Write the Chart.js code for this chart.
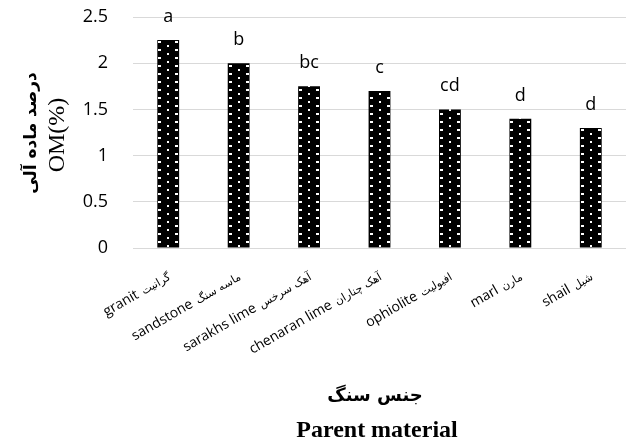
<!DOCTYPE html>
<html>
<head>
<meta charset="utf-8">
<script src="https://cdn.jsdelivr.net/npm/chart.js@4"></script>
<style>
  html, body { margin: 0; padding: 0; background: #fff; }
  #wrap { width: 626px; height: 441px; position: relative; }
</style>
</head>
<body>
<div id="wrap"><canvas id="c" width="626" height="441"></canvas></div>
<script>
// ---- data ----
const categoriesEn = ["granit", "sandstone", "sarakhs lime", "chenaran lime", "ophiolite", "marl", "shail"];
const categoriesFa = ["گرانیت", "ماسه سنگ", "آهک سرخس", "آهک چناران", "افیولیت", "مارن", "شیل"];
const omValues = [2.25, 2.0, 1.75, 1.7, 1.5, 1.4, 1.3];
const groupLetters = ["a", "b", "bc", "c", "cd", "d", "d"];
const yTicks = [0, 0.5, 1, 1.5, 2, 2.5];
const yTitleFa = "درصد ماده آلی";
const yTitleEn = "OM(%)";
const xTitleFa = "جنس سنگ";
const xTitleEn = "Parent material";

const categories = categoriesEn.map((e, i) => e + " " + categoriesFa[i]);

// ---- dotted pattern tile ----
const tile = document.createElement('canvas');
tile.width = 17; tile.height = 8;
(function () {
  const t = tile.getContext('2d');
  t.fillStyle = '#000';
  t.fillRect(0, 0, 17, 8);
  t.fillStyle = '#fff';
  t.fillRect(0, 1, 2, 2);
  t.fillRect(16, 1, 1, 2);
  t.fillRect(8, 5, 2, 2);
})();

function barFill(context) {
  if (context.type !== 'data') return '#000';
  const chart = context.chart;
  const xs = chart.scales.x;
  const p = chart.ctx.createPattern(tile, 'repeat');
  if (xs && p && p.setTransform) {
    const cx = xs.getPixelForValue(context.dataIndex);
    p.setTransform(new DOMMatrix().translate(Math.round(cx - 9), 0));
  }
  return p || '#000';
}

const ROT = 30 * Math.PI / 180;
const FONT_EN = "14px 'Open Sans'";
const FONT_FA = "11px 'DejaVu Sans'";

const textPlugin = {
  id: 'texts',
  afterDraw(chart) {
    const ctx = chart.ctx;
    const meta = chart.getDatasetMeta(0);
    const xs = chart.scales.x;
    ctx.save();
    ctx.fillStyle = '#000';
    // category labels (English + Persian), rotated, anchored at the category pixel
    categories.forEach((lbl, i) => {
      const x = xs.getPixelForValue(i);
      const y = chart.chartArea.bottom + 31;
      ctx.save();
      ctx.translate(x + 3, y);
      ctx.rotate(-ROT);
      ctx.textBaseline = 'alphabetic';
      ctx.textAlign = 'right';
      ctx.font = FONT_FA;
      const wFa = ctx.measureText(categoriesFa[i]).width;
      ctx.fillText(categoriesFa[i], 0, 0);
      ctx.font = FONT_EN;
      ctx.fillText(categoriesEn[i], -wFa - 5, 0);
      ctx.restore();
    });
    // significance letters above bars
    ctx.font = "18px 'Open Sans'";
    ctx.textAlign = 'center';
    ctx.textBaseline = 'alphabetic';
    meta.data.forEach((bar, i) => {
      ctx.fillText(groupLetters[i], bar.x, bar.y - 18);
    });
    // y axis title (two lines, rotated)
    const cy = 133;
    ctx.save();
    ctx.translate(32, cy);
    ctx.rotate(-Math.PI / 2);
    ctx.font = "bold 17px 'DejaVu Sans'";
    ctx.textBaseline = 'middle';
    ctx.fillText(yTitleFa, 0, 0);
    ctx.restore();
    ctx.save();
    ctx.translate(58, cy + 2);
    ctx.rotate(-Math.PI / 2);
    ctx.font = "24px 'Liberation Serif'";
    ctx.textBaseline = 'middle';
    ctx.fillText(yTitleEn, 0, 0);
    ctx.restore();
    // x axis title
    ctx.textBaseline = 'alphabetic';
    ctx.font = "bold 18px 'DejaVu Sans'";
    ctx.fillText(xTitleFa, 375, 401);
    ctx.font = "bold 24px 'Liberation Serif'";
    ctx.fillText(xTitleEn, 377, 437);
    ctx.restore();
  }
};

new Chart(document.getElementById('c'), {
  type: 'bar',
  data: {
    labels: categories,
    datasets: [{
      data: omValues,
      backgroundColor: barFill,
      borderWidth: 0,
      barPercentage: 0.62,
      categoryPercentage: 0.5
    }]
  },
  options: {
    responsive: false,
    animation: false,
    devicePixelRatio: 1,
    layout: { padding: { top: 17, right: -4, left: 0, bottom: 0 } },
    plugins: { legend: { display: false }, tooltip: { enabled: false } },
    scales: {
      x: {
        grid: { display: false },
        border: { color: '#d9d9d9', width: 1 },
        ticks: { display: false, autoSkip: false },
        afterFit(scale) { scale.height = 193; scale.paddingLeft = 0; scale.paddingRight = 0; }
      },
      y: {
        min: 0,
        max: 2.5,
        afterBuildTicks(scale) { scale.ticks = yTicks.map(v => ({ value: v })); },
        grid: { color: '#d9d9d9', lineWidth: 1, drawTicks: false },
        border: { display: false },
        ticks: {
          color: '#000',
          padding: 25,
          font: { family: "'Open Sans'", size: 18 },
          callback: (v) => String(v)
        },
        afterFit(scale) { scale.width = 133; scale.paddingTop = 0; scale.paddingBottom = 0; }
      }
    }
  },
  plugins: [textPlugin]
});
</script>
</body>
</html>
